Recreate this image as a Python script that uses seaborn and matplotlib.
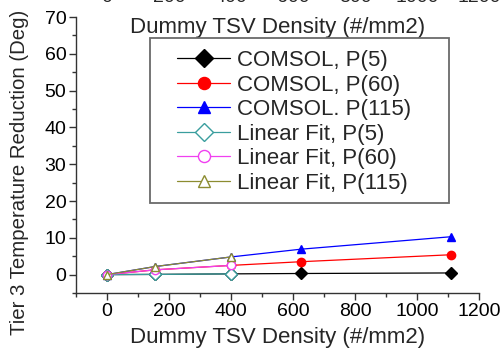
import matplotlib
matplotlib.use("Agg")
import matplotlib.pyplot as plt
import seaborn as sns
import numpy as np
from matplotlib.ticker import MultipleLocator
from matplotlib.patches import Rectangle

density = [0, 156, 400, 625, 1111]
comsol_p5 = [0.0, 0.05, 0.2, 0.3, 0.45]
comsol_p60 = [0.0, 1.3, 2.5, 3.5, 5.4]
comsol_p115 = [0.0, 2.2, 4.8, 6.9, 10.3]
fit_density = [0, 156, 400]
fit_p5 = [0.0, 0.05, 0.2]
fit_p60 = [0.0, 1.3, 2.5]
fit_p115 = [0.0, 2.2, 4.8]
top_ticks = [0, 200, 400, 600, 800, 1000, 1200]

sns.set_theme(style="ticks")
plt.rcParams['font.family'] = ['Liberation Sans', 'DejaVu Sans']

W, H = 504, 348
fig = plt.figure(figsize=(W / 100, H / 100), dpi=100)
L, R, T, B = 76, 479, 17, 293
ax = fig.add_axes([L / W, 1 - B / H, (R - L) / W, (B - T) / H])

def ax_x(px):
    return (px - L) / (R - L)

def ax_y(py):
    return (B - py) / (B - T)

series = [
    (density, comsol_p5, "COMSOL, P(5)", "black", "D", True),
    (density, comsol_p60, "COMSOL, P(60)", "#ff0000", "o", True),
    (density, comsol_p115, "COMSOL. P(115)", "#0000ff", "^", True),
    (fit_density, fit_p5, "Linear Fit, P(5)", "#3a9e9e", "D", False),
    (fit_density, fit_p60, "Linear Fit, P(60)", "#f040f0", "o", False),
    (fit_density, fit_p115, "Linear Fit, P(115)", "#8c8c30", "^", False),
]
for xs, ys, lab, col, mk, filled in series:
    sns.lineplot(x=xs, y=ys, ax=ax, color=col, marker=mk, markersize=6,
                 markerfacecolor=col if filled else "white",
                 markeredgecolor=col, markeredgewidth=1.0, linewidth=0.9,
                 label=lab, legend=False)

ax.set_xlim(-100, 1200)
ax.set_ylim(-5, 70)
ax.xaxis.set_major_locator(MultipleLocator(200))
ax.xaxis.set_minor_locator(MultipleLocator(100))
ax.yaxis.set_major_locator(MultipleLocator(10))
ax.yaxis.set_minor_locator(MultipleLocator(5))
ax.tick_params(which="major", direction="out", length=5, width=1, labelsize=14,
               colors="#333333", labelcolor="black", pad=2)
ax.tick_params(which="minor", direction="out", length=3, width=1, colors="#333333")
for s in ["top", "right"]:
    ax.spines[s].set_visible(False)
for s in ["left", "bottom"]:
    ax.spines[s].set_color("#333333")
    ax.spines[s].set_linewidth(1.0)

ax.set_xlabel("Dummy TSV Density (#/mm2)", fontsize=16)
ax.xaxis.set_label_coords(0.5, ax_y(337))
ax.xaxis.label.set_va("center")
ax.set_ylabel("Tier 3 Temperature Reduction (Deg)", fontsize=14.7)
ax.yaxis.set_label_coords(ax_x(20), ax_y(172))
ax.yaxis.label.set_va("center")

# remnants of the panel above: its x tick labels and axis label
trans = ax.get_xaxis_transform()
for t in top_ticks:
    ax.text(t, ax_y(-2), str(t), transform=trans, ha="center", va="center",
            fontsize=14, clip_on=False)
ax.text(0.5, ax_y(28), "Dummy TSV Density (#/mm2)", transform=ax.transAxes,
        ha="center", va="center", fontsize=16)

# legend frame drawn separately, contents placed inside
frame = Rectangle((ax_x(150), ax_y(203)), ax_x(449) - ax_x(150), ax_y(38) - ax_y(203),
                  transform=ax.transAxes, facecolor="white", edgecolor="#6a6a6a",
                  linewidth=1.3, zorder=4, clip_on=False)
ax.add_patch(frame)
handles, labels = ax.get_legend_handles_labels()
leg = ax.legend(handles, labels, loc="upper left",
                bbox_to_anchor=(ax_x(177), ax_y(50)),
                fontsize=16, frameon=False, markerscale=1.45, handlelength=2.4,
                handletextpad=0.3, labelspacing=0.16, borderpad=0, borderaxespad=0)
leg.set_zorder(5)

fig.savefig("out.png", dpi=100)
